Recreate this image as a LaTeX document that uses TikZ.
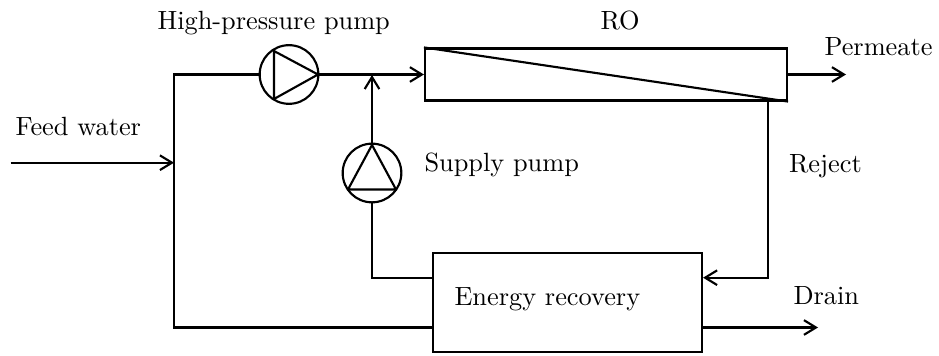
\documentclass[tikz,border=0pt]{standalone}
\usetikzlibrary{arrows.meta}
\tikzset{
  line/.style={line width=1.6pt},
  arr/.style={line, -{Straight Barb[length=9pt,width=11pt,line width=1.6pt]}},
  lab/.style={inner sep=0pt,font=\fontsize{10}{12}\selectfont,anchor=base west,scale=1.975,transform shape},
  pumpc/.style={circle,draw,line width=1.6pt,minimum size=44pt,inner sep=0pt},
  boxn/.style={draw,line width=1.6pt,inner sep=0pt}
}
\begin{document}
\begin{tikzpicture}[x=0.75pt,y=-0.75pt]
\useasboundingbox (0,0) rectangle (939,356);
\node[pumpc] (hp) at (289,74.5) {};
\node[pumpc] (sp) at (372,173) {};
\node[boxn,minimum width=271.5pt,minimum height=39pt] (ro) at (606,74.5) {};
\node[boxn,minimum width=201.75pt,minimum height=74.25pt] (er) at (567.5,302.5) {};
\coordinate (h1) at (274,51);
\coordinate (h2) at (274,99);
\coordinate (h3) at (318,74.5);
\coordinate (s1) at (372,145);
\coordinate (s2) at (348,189.5);
\coordinate (s3) at (396,189.5);
\draw[line,line join=round] (h1) -- (h2) -- (h3) -- cycle;
\draw[line,line join=round] (s1) -- (s2) -- (s3) -- cycle;
\draw[line] (ro.north west) -- (ro.south east);
\coordinate (fw) at (10.5,162.7);
\coordinate (jn) at (174,162.7);
\coordinate (tl) at (174,74.5);
\coordinate (bl) at (174,327.5);
\coordinate (mj) at (372,75);
\coordinate (perm) at (846,74.5);
\coordinate (rj) at (768,101);
\coordinate (rb) at (768,277.7);
\coordinate (dr) at (818,327.5);
\coordinate (sb) at (372,277.7);
\draw[arr] (fw) -- (jn);
\draw[line] (hp.west) -- (tl) -- (bl) -- (er.west |- bl);
\draw[arr] (hp.east) -- (ro.west |- hp);
\draw[arr] (sp.north) -- (mj);
\draw[line] (sp.south) -- (sb) -- (er.west |- sb);
\draw[arr] (ro.east |- perm) -- (perm);
\draw[arr] (rj) -- (rb) -- (er.east |- rb);
\draw[arr] (er.east |- dr) -- (dr);
\node[lab] (t1) at (157,30) {High-pressure pump};
\node[lab] (t2) at (600,29.5) {RO};
\node[lab] (t3) at (824,56) {Permeate};
\node[lab] (t4) at (15,135.5) {Feed water};
\node[lab] (t5) at (424,172) {Supply pump};
\node[lab] (t6) at (788.5,173) {Reject};
\node[lab] (t7) at (454,305.7) {Energy recovery};
\node[lab] (t8) at (793,304) {Drain};
\end{tikzpicture}
\end{document}
